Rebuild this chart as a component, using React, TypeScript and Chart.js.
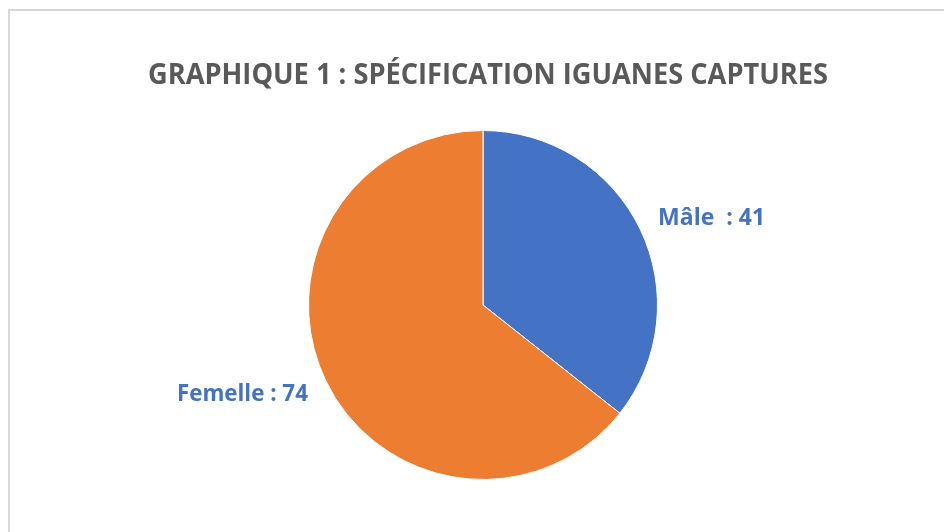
import React, { useEffect, useRef } from "react";
import { Chart, registerables } from "chart.js";

Chart.register(...registerables);

const categories = ["Mâle", "Femelle"];
const values = [41, 74];
const dataLabels = ["Mâle  : 41", "Femelle : 74"];
const sliceColors = ["#4472C4", "#ED7D31"];
const chartTitle = "GRAPHIQUE 1 : SPÉCIFICATION IGUANES CAPTURES";

const titleLabelPlugin = {
  id: "titleLabels",
  afterDraw(chart: any) {
    const ctx = chart.ctx;
    ctx.save();
    // title
    ctx.fillStyle = "#595959";
    ctx.font = "bold 29px 'Open Sans'";
    ctx.textAlign = "center";
    ctx.textBaseline = "middle";
    ctx.fillText(chartTitle, 488, 76, 680);

    // data labels
    const meta = chart.getDatasetMeta(0);
    ctx.font = "bold 23px 'Open Sans'";
    ctx.fillStyle = "#4472C4";
    const widths = [108, 131];
    const nudgeY = [-2, 5];
    meta.data.forEach((arc: any, i: number) => {
      const mid = (arc.startAngle + arc.endAngle) / 2;
      const R = arc.outerRadius + 20;
      const x = arc.x + Math.cos(mid) * R;
      const y = arc.y + Math.sin(mid) * R + nudgeY[i];
      const right = Math.cos(mid) >= 0;
      ctx.textAlign = right ? "left" : "right";
      ctx.textBaseline = "middle";
      ctx.fillText(dataLabels[i], x, y, widths[i]);
    });
    ctx.restore();
  },
};

export default function App() {
  const ref = useRef<HTMLCanvasElement>(null);
  useEffect(() => {
    if (!ref.current) return;
    const chart = new Chart(ref.current, {
      type: "pie",
      data: {
        labels: categories,
        datasets: [
          {
            data: values,
            backgroundColor: sliceColors,
            borderColor: "#ffffff",
            borderWidth: 1,
            hoverOffset: 0,
            offset: 0,
          },
        ],
      },
      options: {
        animation: false,
        responsive: true,
        maintainAspectRatio: false,
        layout: { padding: { top: 130, bottom: 52, left: 308, right: 286 } },
        plugins: {
          legend: { display: false },
          title: { display: false },
          tooltip: { enabled: false },
        },
      },
      plugins: [titleLabelPlugin],
    });
    return () => chart.destroy();
  }, []);

  return (
    <div
      style={{
        position: "fixed",
        left: 0,
        top: 0,
        width: 944,
        height: 532,
        background: "#ffffff",
        overflow: "hidden",
      }}
    >
      <div
        style={{
          position: "absolute",
          left: 8,
          top: 9,
          width: 1000,
          height: 600,
          border: "2px solid #d9d9d9",
          boxSizing: "border-box",
        }}
      />
      <div style={{ position: "absolute", left: 0, top: 0, width: 944, height: 532 }}>
        <canvas ref={ref} />
      </div>
    </div>
  );
}
